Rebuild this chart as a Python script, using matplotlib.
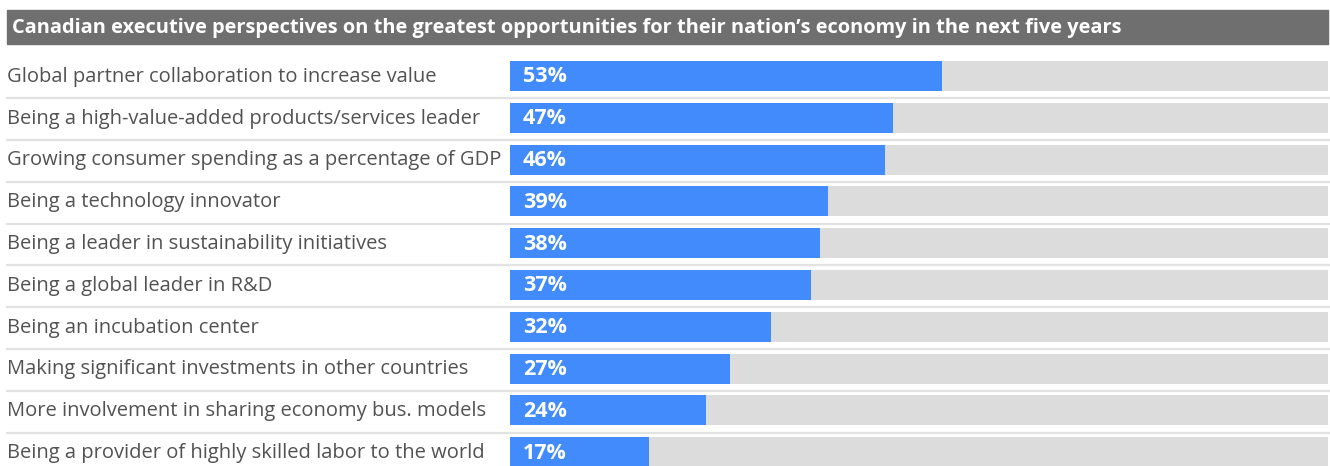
import matplotlib
matplotlib.use("Agg")
import matplotlib.pyplot as plt
from matplotlib.patches import Rectangle
import matplotlib.transforms as mtransforms

plt.rcParams['font.family'] = ['Open Sans', 'DejaVu Sans']

TITLE = "Canadian executive perspectives on the greatest opportunities for their nation\u2019s economy in the next five years"
categories = [
    "Global partner collaboration to increase value",
    "Being a high-value-added products/services leader",
    "Growing consumer spending as a percentage of GDP",
    "Being a technology innovator",
    "Being a leader in sustainability initiatives",
    "Being a global leader in R&D",
    "Being an incubation center",
    "Making significant investments in other countries",
    "More involvement in sharing economy bus. models",
    "Being a provider of highly skilled labor to the world",
]
values = [53, 47, 46, 39, 38, 37, 32, 27, 24, 17]

BLUE = "#418bfc"
TRACK = "#dcdcdc"
HEADER = "#6f6f6f"
LABEL = "#525252"
RULE = "#e2e2e2"

W, H = 1330, 466
fig = plt.figure(figsize=(W / 100, H / 100), dpi=100)

# header band
fig.patches.append(Rectangle((7 / W, 1 - 44 / H), 1321 / W, 34 / H,
                             transform=fig.transFigure, color=HEADER, zorder=0))
fig.text(12 / W, 1 - 27.5 / H, TITLE, color="white", fontsize=14.4, fontweight="bold",
         va="center", ha="left")

# bar area, rows are 41.8 px apart
pitch = 41.8
top = 76 - pitch / 2
n = len(categories)
bottom = top + pitch * n
ax = fig.add_axes([510 / W, 1 - bottom / H, 818 / W, (bottom - top) / H])
ax.set_xlim(0, 100.4)
ax.set_ylim(n - 0.5, -0.5)
ax.axis("off")

bh = 30 / pitch
ys = list(range(n))
ax.barh(ys, [100.4] * n, height=bh, color=TRACK, zorder=1)
ax.barh(ys, values, height=bh, color=BLUE, zorder=2)

lab_tr = mtransforms.blended_transform_factory(fig.transFigure, ax.transData)
for y, (cat, v) in enumerate(zip(categories, values)):
    ax.text(7 / W, y + 0.02, cat, transform=lab_tr, color=LABEL, fontsize=14.5,
            va="center", ha="left")
    ax.text(1.6, y + 0.02, f"{v}%", color="white", fontsize=15.5, fontweight="bold",
            va="center", ha="left", zorder=3)
    if y < n - 1:
        ax.plot([7 / W, 1330 / W], [y + 0.53, y + 0.53], transform=lab_tr,
                color=RULE, lw=1.6, clip_on=False, zorder=0)

fig.savefig("out.png", dpi=100)
